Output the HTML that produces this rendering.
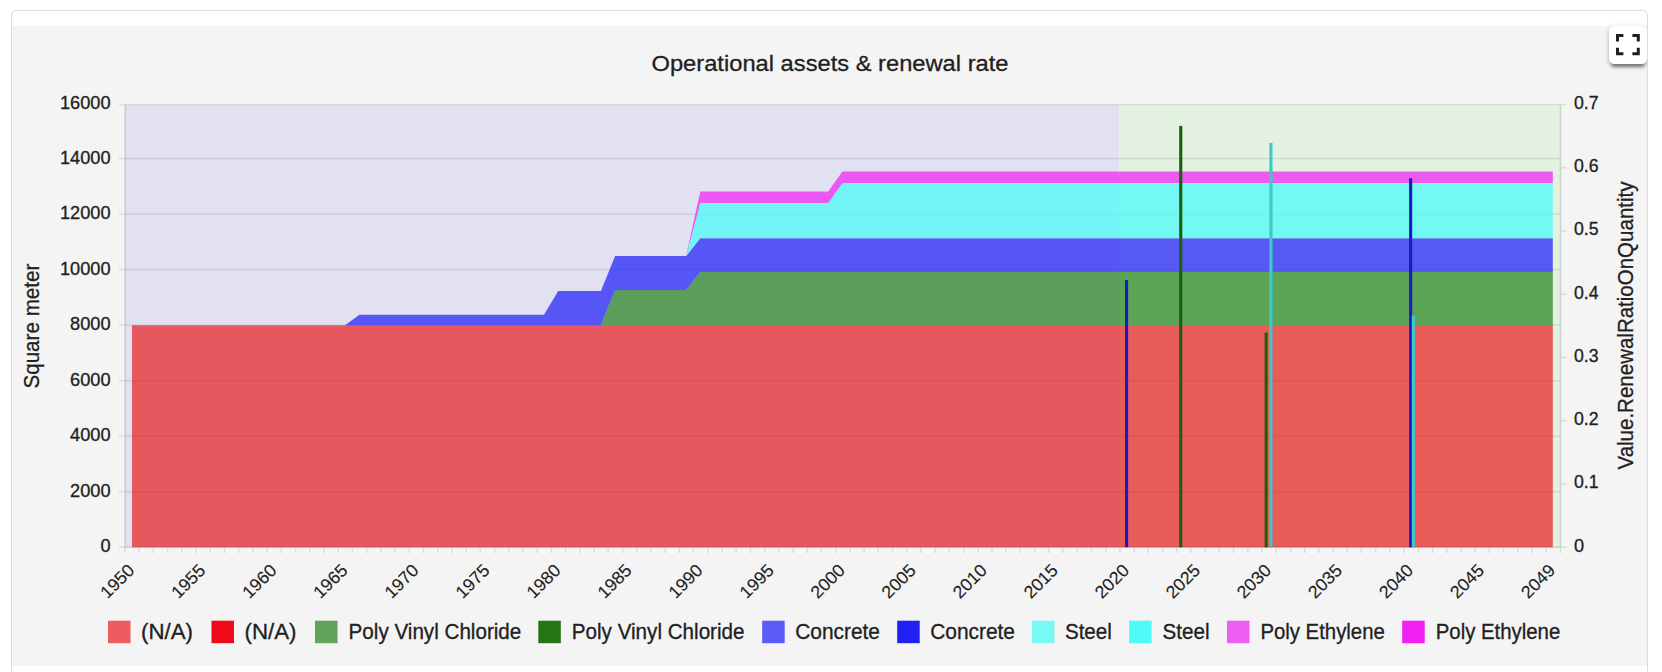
<!DOCTYPE html>
<html lang="en"><head><meta charset="utf-8"><title>Operational assets &amp; renewal rate</title>
<style>
html,body{margin:0;padding:0;background:#fff;}
body{width:1662px;height:672px;overflow:hidden;position:relative;font-family:"Liberation Sans", sans-serif;}
.card{position:absolute;left:11px;top:10px;width:1637px;height:720px;box-sizing:border-box;border:1px solid #dcdcdc;border-radius:5px;background:#fff;}
.pane{position:absolute;left:12px;top:26px;width:1635px;height:640px;background:#f4f4f4;}
.clip{position:absolute;left:12px;top:11px;width:1635px;height:661px;overflow:hidden;}
.fs{position:absolute;left:1597px;top:15px;width:38px;height:38px;border-radius:5.5px;background:#fff;box-shadow:0 5.5px 3px -3px rgba(0,0,0,.32),0 3px 3.5px 0 rgba(0,0,0,.2),0 1.5px 7.5px 0 rgba(0,0,0,.12);}
.fs svg{position:absolute;left:7.1px;top:8.4px;}
svg text{stroke:#212121;stroke-width:0.3px;}
svg text.xl{stroke-width:0.12px;}
</style></head><body>
<div class="card"></div>
<div class="pane"></div>
<svg width="1662" height="672" viewBox="0 0 1662 672" style="position:absolute;left:0;top:0" font-family='"Liberation Sans", sans-serif' fill="#212121">
<rect x="125.0" y="104.5" width="994.3" height="442.7" fill="#e2e1f1"/>
<rect x="1119.3" y="104.5" width="441.2" height="442.7" fill="#e2f1e0"/>
<line x1="125.0" x2="1560.5" y1="104.5" y2="104.5" stroke="#000" stroke-opacity="0.09" stroke-width="1.5"/>
<line x1="125.0" x2="1560.5" y1="158.6" y2="158.6" stroke="#000" stroke-opacity="0.09" stroke-width="1.5"/>
<line x1="125.0" x2="1560.5" y1="214.1" y2="214.1" stroke="#000" stroke-opacity="0.09" stroke-width="1.5"/>
<line x1="125.0" x2="1560.5" y1="269.6" y2="269.6" stroke="#000" stroke-opacity="0.09" stroke-width="1.5"/>
<line x1="125.0" x2="1560.5" y1="325.2" y2="325.2" stroke="#000" stroke-opacity="0.09" stroke-width="1.5"/>
<line x1="125.0" x2="1560.5" y1="380.7" y2="380.7" stroke="#000" stroke-opacity="0.09" stroke-width="1.5"/>
<line x1="125.0" x2="1560.5" y1="436.2" y2="436.2" stroke="#000" stroke-opacity="0.09" stroke-width="1.5"/>
<line x1="125.0" x2="1560.5" y1="491.7" y2="491.7" stroke="#000" stroke-opacity="0.09" stroke-width="1.5"/>
<path d="M132.0 325.2 L1552.8 325.2 L1552.8 547.2 L132.0 547.2Z" fill="#ea0c10" fill-opacity="0.65"/>
<path d="M132.0 325.2 L600.9 325.2 L615.1 290.1 L686.1 290.1 L700.3 272.1 L1552.8 272.1 L1552.8 325.2 L132.0 325.2Z" fill="#187c10" fill-opacity="0.67"/>
<path d="M132.0 325.2 L345.1 325.2 L359.3 314.7 L544.0 314.7 L558.2 290.9 L600.9 290.9 L615.1 256.1 L686.1 256.1 L700.3 238.2 L1552.8 238.2 L1552.8 272.1 L700.3 272.1 L686.1 290.1 L615.1 290.1 L600.9 325.2 L132.0 325.2Z" fill="#2020fa" fill-opacity="0.72"/>
<path d="M132.0 325.2 L345.1 325.2 L359.3 314.7 L544.0 314.7 L558.2 290.9 L600.9 290.9 L615.1 256.1 L686.1 256.1 L700.3 203.0 L828.2 203.0 L842.4 183.1 L1552.8 183.1 L1552.8 238.2 L700.3 238.2 L686.1 256.1 L615.1 256.1 L600.9 290.9 L558.2 290.9 L544.0 314.7 L359.3 314.7 L345.1 325.2 L132.0 325.2Z" fill="#46fcf6" fill-opacity="0.72"/>
<path d="M132.0 325.2 L345.1 325.2 L359.3 314.7 L544.0 314.7 L558.2 290.9 L600.9 290.9 L615.1 256.1 L686.1 256.1 L700.3 191.6 L828.2 191.6 L842.4 171.4 L1552.8 171.4 L1552.8 183.1 L842.4 183.1 L828.2 203.0 L700.3 203.0 L686.1 256.1 L615.1 256.1 L600.9 290.9 L558.2 290.9 L544.0 314.7 L359.3 314.7 L345.1 325.2 L132.0 325.2Z" fill="#ee22f2" fill-opacity="0.72"/>
<rect x="1125.0" y="280.1" width="3.1" height="267.1" fill="#1a1ac2"/>
<rect x="1179.2" y="125.9" width="3.1" height="421.3" fill="#1c5d10"/>
<rect x="1264.6" y="332.6" width="3.1" height="214.6" fill="#1c5d10"/>
<rect x="1269.4" y="142.9" width="3.1" height="404.3" fill="#3fc8cc"/>
<rect x="1409.1" y="178.2" width="3.1" height="369.0" fill="#1a1ac2"/>
<rect x="1411.8" y="315.4" width="3.1" height="231.8" fill="#3fc8cc"/>
<line x1="125.0" x2="125.0" y1="104.5" y2="547.9" stroke="#000" stroke-opacity="0.13" stroke-width="1.5"/>
<line x1="1560.5" x2="1560.5" y1="104.5" y2="547.9" stroke="#000" stroke-opacity="0.13" stroke-width="1.5"/>
<line x1="125.0" x2="1560.5" y1="547.2" y2="547.2" stroke="#000" stroke-opacity="0.13" stroke-width="1.5"/>
<line x1="119" x2="124.2" y1="104.5" y2="104.5" stroke="#000" stroke-opacity="0.10" stroke-width="1.5"/>
<line x1="119" x2="124.2" y1="158.6" y2="158.6" stroke="#000" stroke-opacity="0.10" stroke-width="1.5"/>
<line x1="119" x2="124.2" y1="214.1" y2="214.1" stroke="#000" stroke-opacity="0.10" stroke-width="1.5"/>
<line x1="119" x2="124.2" y1="269.6" y2="269.6" stroke="#000" stroke-opacity="0.10" stroke-width="1.5"/>
<line x1="119" x2="124.2" y1="325.2" y2="325.2" stroke="#000" stroke-opacity="0.10" stroke-width="1.5"/>
<line x1="119" x2="124.2" y1="380.7" y2="380.7" stroke="#000" stroke-opacity="0.10" stroke-width="1.5"/>
<line x1="119" x2="124.2" y1="436.2" y2="436.2" stroke="#000" stroke-opacity="0.10" stroke-width="1.5"/>
<line x1="119" x2="124.2" y1="491.7" y2="491.7" stroke="#000" stroke-opacity="0.10" stroke-width="1.5"/>
<line x1="119" x2="124.2" y1="547.2" y2="547.2" stroke="#000" stroke-opacity="0.10" stroke-width="1.5"/>
<line x1="1561.2" x2="1566.5" y1="547.2" y2="547.2" stroke="#000" stroke-opacity="0.10" stroke-width="1.5"/>
<line x1="1561.2" x2="1566.5" y1="484.0" y2="484.0" stroke="#000" stroke-opacity="0.10" stroke-width="1.5"/>
<line x1="1561.2" x2="1566.5" y1="420.7" y2="420.7" stroke="#000" stroke-opacity="0.10" stroke-width="1.5"/>
<line x1="1561.2" x2="1566.5" y1="357.5" y2="357.5" stroke="#000" stroke-opacity="0.10" stroke-width="1.5"/>
<line x1="1561.2" x2="1566.5" y1="294.2" y2="294.2" stroke="#000" stroke-opacity="0.10" stroke-width="1.5"/>
<line x1="1561.2" x2="1566.5" y1="231.0" y2="231.0" stroke="#000" stroke-opacity="0.10" stroke-width="1.5"/>
<line x1="1561.2" x2="1566.5" y1="167.7" y2="167.7" stroke="#000" stroke-opacity="0.10" stroke-width="1.5"/>
<line x1="1561.2" x2="1566.5" y1="104.5" y2="104.5" stroke="#000" stroke-opacity="0.10" stroke-width="1.5"/>
<line x1="125.0" x2="125.0" y1="548.0" y2="553" stroke="#000" stroke-opacity="0.10" stroke-width="1.5"/>
<line x1="139.2" x2="139.2" y1="548.0" y2="553" stroke="#000" stroke-opacity="0.10" stroke-width="1.5"/>
<line x1="153.4" x2="153.4" y1="548.0" y2="553" stroke="#000" stroke-opacity="0.10" stroke-width="1.5"/>
<line x1="167.6" x2="167.6" y1="548.0" y2="553" stroke="#000" stroke-opacity="0.10" stroke-width="1.5"/>
<line x1="181.9" x2="181.9" y1="548.0" y2="553" stroke="#000" stroke-opacity="0.10" stroke-width="1.5"/>
<line x1="196.1" x2="196.1" y1="548.0" y2="553" stroke="#000" stroke-opacity="0.10" stroke-width="1.5"/>
<line x1="210.3" x2="210.3" y1="548.0" y2="553" stroke="#000" stroke-opacity="0.10" stroke-width="1.5"/>
<line x1="224.5" x2="224.5" y1="548.0" y2="553" stroke="#000" stroke-opacity="0.10" stroke-width="1.5"/>
<line x1="238.7" x2="238.7" y1="548.0" y2="553" stroke="#000" stroke-opacity="0.10" stroke-width="1.5"/>
<line x1="252.9" x2="252.9" y1="548.0" y2="553" stroke="#000" stroke-opacity="0.10" stroke-width="1.5"/>
<line x1="267.1" x2="267.1" y1="548.0" y2="553" stroke="#000" stroke-opacity="0.10" stroke-width="1.5"/>
<line x1="281.3" x2="281.3" y1="548.0" y2="553" stroke="#000" stroke-opacity="0.10" stroke-width="1.5"/>
<line x1="295.6" x2="295.6" y1="548.0" y2="553" stroke="#000" stroke-opacity="0.10" stroke-width="1.5"/>
<line x1="309.8" x2="309.8" y1="548.0" y2="553" stroke="#000" stroke-opacity="0.10" stroke-width="1.5"/>
<line x1="324.0" x2="324.0" y1="548.0" y2="553" stroke="#000" stroke-opacity="0.10" stroke-width="1.5"/>
<line x1="338.2" x2="338.2" y1="548.0" y2="553" stroke="#000" stroke-opacity="0.10" stroke-width="1.5"/>
<line x1="352.4" x2="352.4" y1="548.0" y2="553" stroke="#000" stroke-opacity="0.10" stroke-width="1.5"/>
<line x1="366.6" x2="366.6" y1="548.0" y2="553" stroke="#000" stroke-opacity="0.10" stroke-width="1.5"/>
<line x1="380.8" x2="380.8" y1="548.0" y2="553" stroke="#000" stroke-opacity="0.10" stroke-width="1.5"/>
<line x1="395.0" x2="395.0" y1="548.0" y2="553" stroke="#000" stroke-opacity="0.10" stroke-width="1.5"/>
<line x1="409.3" x2="409.3" y1="548.0" y2="553" stroke="#000" stroke-opacity="0.10" stroke-width="1.5"/>
<line x1="423.5" x2="423.5" y1="548.0" y2="553" stroke="#000" stroke-opacity="0.10" stroke-width="1.5"/>
<line x1="437.7" x2="437.7" y1="548.0" y2="553" stroke="#000" stroke-opacity="0.10" stroke-width="1.5"/>
<line x1="451.9" x2="451.9" y1="548.0" y2="553" stroke="#000" stroke-opacity="0.10" stroke-width="1.5"/>
<line x1="466.1" x2="466.1" y1="548.0" y2="553" stroke="#000" stroke-opacity="0.10" stroke-width="1.5"/>
<line x1="480.3" x2="480.3" y1="548.0" y2="553" stroke="#000" stroke-opacity="0.10" stroke-width="1.5"/>
<line x1="494.5" x2="494.5" y1="548.0" y2="553" stroke="#000" stroke-opacity="0.10" stroke-width="1.5"/>
<line x1="508.7" x2="508.7" y1="548.0" y2="553" stroke="#000" stroke-opacity="0.10" stroke-width="1.5"/>
<line x1="523.0" x2="523.0" y1="548.0" y2="553" stroke="#000" stroke-opacity="0.10" stroke-width="1.5"/>
<line x1="537.2" x2="537.2" y1="548.0" y2="553" stroke="#000" stroke-opacity="0.10" stroke-width="1.5"/>
<line x1="551.4" x2="551.4" y1="548.0" y2="553" stroke="#000" stroke-opacity="0.10" stroke-width="1.5"/>
<line x1="565.6" x2="565.6" y1="548.0" y2="553" stroke="#000" stroke-opacity="0.10" stroke-width="1.5"/>
<line x1="579.8" x2="579.8" y1="548.0" y2="553" stroke="#000" stroke-opacity="0.10" stroke-width="1.5"/>
<line x1="594.0" x2="594.0" y1="548.0" y2="553" stroke="#000" stroke-opacity="0.10" stroke-width="1.5"/>
<line x1="608.2" x2="608.2" y1="548.0" y2="553" stroke="#000" stroke-opacity="0.10" stroke-width="1.5"/>
<line x1="622.5" x2="622.5" y1="548.0" y2="553" stroke="#000" stroke-opacity="0.10" stroke-width="1.5"/>
<line x1="636.7" x2="636.7" y1="548.0" y2="553" stroke="#000" stroke-opacity="0.10" stroke-width="1.5"/>
<line x1="650.9" x2="650.9" y1="548.0" y2="553" stroke="#000" stroke-opacity="0.10" stroke-width="1.5"/>
<line x1="665.1" x2="665.1" y1="548.0" y2="553" stroke="#000" stroke-opacity="0.10" stroke-width="1.5"/>
<line x1="679.3" x2="679.3" y1="548.0" y2="553" stroke="#000" stroke-opacity="0.10" stroke-width="1.5"/>
<line x1="693.5" x2="693.5" y1="548.0" y2="553" stroke="#000" stroke-opacity="0.10" stroke-width="1.5"/>
<line x1="707.7" x2="707.7" y1="548.0" y2="553" stroke="#000" stroke-opacity="0.10" stroke-width="1.5"/>
<line x1="721.9" x2="721.9" y1="548.0" y2="553" stroke="#000" stroke-opacity="0.10" stroke-width="1.5"/>
<line x1="736.2" x2="736.2" y1="548.0" y2="553" stroke="#000" stroke-opacity="0.10" stroke-width="1.5"/>
<line x1="750.4" x2="750.4" y1="548.0" y2="553" stroke="#000" stroke-opacity="0.10" stroke-width="1.5"/>
<line x1="764.6" x2="764.6" y1="548.0" y2="553" stroke="#000" stroke-opacity="0.10" stroke-width="1.5"/>
<line x1="778.8" x2="778.8" y1="548.0" y2="553" stroke="#000" stroke-opacity="0.10" stroke-width="1.5"/>
<line x1="793.0" x2="793.0" y1="548.0" y2="553" stroke="#000" stroke-opacity="0.10" stroke-width="1.5"/>
<line x1="807.2" x2="807.2" y1="548.0" y2="553" stroke="#000" stroke-opacity="0.10" stroke-width="1.5"/>
<line x1="821.4" x2="821.4" y1="548.0" y2="553" stroke="#000" stroke-opacity="0.10" stroke-width="1.5"/>
<line x1="835.6" x2="835.6" y1="548.0" y2="553" stroke="#000" stroke-opacity="0.10" stroke-width="1.5"/>
<line x1="849.9" x2="849.9" y1="548.0" y2="553" stroke="#000" stroke-opacity="0.10" stroke-width="1.5"/>
<line x1="864.1" x2="864.1" y1="548.0" y2="553" stroke="#000" stroke-opacity="0.10" stroke-width="1.5"/>
<line x1="878.3" x2="878.3" y1="548.0" y2="553" stroke="#000" stroke-opacity="0.10" stroke-width="1.5"/>
<line x1="892.5" x2="892.5" y1="548.0" y2="553" stroke="#000" stroke-opacity="0.10" stroke-width="1.5"/>
<line x1="906.7" x2="906.7" y1="548.0" y2="553" stroke="#000" stroke-opacity="0.10" stroke-width="1.5"/>
<line x1="920.9" x2="920.9" y1="548.0" y2="553" stroke="#000" stroke-opacity="0.10" stroke-width="1.5"/>
<line x1="935.1" x2="935.1" y1="548.0" y2="553" stroke="#000" stroke-opacity="0.10" stroke-width="1.5"/>
<line x1="949.3" x2="949.3" y1="548.0" y2="553" stroke="#000" stroke-opacity="0.10" stroke-width="1.5"/>
<line x1="963.6" x2="963.6" y1="548.0" y2="553" stroke="#000" stroke-opacity="0.10" stroke-width="1.5"/>
<line x1="977.8" x2="977.8" y1="548.0" y2="553" stroke="#000" stroke-opacity="0.10" stroke-width="1.5"/>
<line x1="992.0" x2="992.0" y1="548.0" y2="553" stroke="#000" stroke-opacity="0.10" stroke-width="1.5"/>
<line x1="1006.2" x2="1006.2" y1="548.0" y2="553" stroke="#000" stroke-opacity="0.10" stroke-width="1.5"/>
<line x1="1020.4" x2="1020.4" y1="548.0" y2="553" stroke="#000" stroke-opacity="0.10" stroke-width="1.5"/>
<line x1="1034.6" x2="1034.6" y1="548.0" y2="553" stroke="#000" stroke-opacity="0.10" stroke-width="1.5"/>
<line x1="1048.8" x2="1048.8" y1="548.0" y2="553" stroke="#000" stroke-opacity="0.10" stroke-width="1.5"/>
<line x1="1063.0" x2="1063.0" y1="548.0" y2="553" stroke="#000" stroke-opacity="0.10" stroke-width="1.5"/>
<line x1="1077.3" x2="1077.3" y1="548.0" y2="553" stroke="#000" stroke-opacity="0.10" stroke-width="1.5"/>
<line x1="1091.5" x2="1091.5" y1="548.0" y2="553" stroke="#000" stroke-opacity="0.10" stroke-width="1.5"/>
<line x1="1105.7" x2="1105.7" y1="548.0" y2="553" stroke="#000" stroke-opacity="0.10" stroke-width="1.5"/>
<line x1="1119.9" x2="1119.9" y1="548.0" y2="553" stroke="#000" stroke-opacity="0.10" stroke-width="1.5"/>
<line x1="1134.1" x2="1134.1" y1="548.0" y2="553" stroke="#000" stroke-opacity="0.10" stroke-width="1.5"/>
<line x1="1148.3" x2="1148.3" y1="548.0" y2="553" stroke="#000" stroke-opacity="0.10" stroke-width="1.5"/>
<line x1="1162.5" x2="1162.5" y1="548.0" y2="553" stroke="#000" stroke-opacity="0.10" stroke-width="1.5"/>
<line x1="1176.8" x2="1176.8" y1="548.0" y2="553" stroke="#000" stroke-opacity="0.10" stroke-width="1.5"/>
<line x1="1191.0" x2="1191.0" y1="548.0" y2="553" stroke="#000" stroke-opacity="0.10" stroke-width="1.5"/>
<line x1="1205.2" x2="1205.2" y1="548.0" y2="553" stroke="#000" stroke-opacity="0.10" stroke-width="1.5"/>
<line x1="1219.4" x2="1219.4" y1="548.0" y2="553" stroke="#000" stroke-opacity="0.10" stroke-width="1.5"/>
<line x1="1233.6" x2="1233.6" y1="548.0" y2="553" stroke="#000" stroke-opacity="0.10" stroke-width="1.5"/>
<line x1="1247.8" x2="1247.8" y1="548.0" y2="553" stroke="#000" stroke-opacity="0.10" stroke-width="1.5"/>
<line x1="1262.0" x2="1262.0" y1="548.0" y2="553" stroke="#000" stroke-opacity="0.10" stroke-width="1.5"/>
<line x1="1276.2" x2="1276.2" y1="548.0" y2="553" stroke="#000" stroke-opacity="0.10" stroke-width="1.5"/>
<line x1="1290.5" x2="1290.5" y1="548.0" y2="553" stroke="#000" stroke-opacity="0.10" stroke-width="1.5"/>
<line x1="1304.7" x2="1304.7" y1="548.0" y2="553" stroke="#000" stroke-opacity="0.10" stroke-width="1.5"/>
<line x1="1318.9" x2="1318.9" y1="548.0" y2="553" stroke="#000" stroke-opacity="0.10" stroke-width="1.5"/>
<line x1="1333.1" x2="1333.1" y1="548.0" y2="553" stroke="#000" stroke-opacity="0.10" stroke-width="1.5"/>
<line x1="1347.3" x2="1347.3" y1="548.0" y2="553" stroke="#000" stroke-opacity="0.10" stroke-width="1.5"/>
<line x1="1361.5" x2="1361.5" y1="548.0" y2="553" stroke="#000" stroke-opacity="0.10" stroke-width="1.5"/>
<line x1="1375.7" x2="1375.7" y1="548.0" y2="553" stroke="#000" stroke-opacity="0.10" stroke-width="1.5"/>
<line x1="1389.9" x2="1389.9" y1="548.0" y2="553" stroke="#000" stroke-opacity="0.10" stroke-width="1.5"/>
<line x1="1404.2" x2="1404.2" y1="548.0" y2="553" stroke="#000" stroke-opacity="0.10" stroke-width="1.5"/>
<line x1="1418.4" x2="1418.4" y1="548.0" y2="553" stroke="#000" stroke-opacity="0.10" stroke-width="1.5"/>
<line x1="1432.6" x2="1432.6" y1="548.0" y2="553" stroke="#000" stroke-opacity="0.10" stroke-width="1.5"/>
<line x1="1446.8" x2="1446.8" y1="548.0" y2="553" stroke="#000" stroke-opacity="0.10" stroke-width="1.5"/>
<line x1="1461.0" x2="1461.0" y1="548.0" y2="553" stroke="#000" stroke-opacity="0.10" stroke-width="1.5"/>
<line x1="1475.2" x2="1475.2" y1="548.0" y2="553" stroke="#000" stroke-opacity="0.10" stroke-width="1.5"/>
<line x1="1489.4" x2="1489.4" y1="548.0" y2="553" stroke="#000" stroke-opacity="0.10" stroke-width="1.5"/>
<line x1="1503.6" x2="1503.6" y1="548.0" y2="553" stroke="#000" stroke-opacity="0.10" stroke-width="1.5"/>
<line x1="1517.9" x2="1517.9" y1="548.0" y2="553" stroke="#000" stroke-opacity="0.10" stroke-width="1.5"/>
<line x1="1532.1" x2="1532.1" y1="548.0" y2="553" stroke="#000" stroke-opacity="0.10" stroke-width="1.5"/>
<line x1="1546.3" x2="1546.3" y1="548.0" y2="553" stroke="#000" stroke-opacity="0.10" stroke-width="1.5"/>
<line x1="1560.5" x2="1560.5" y1="548.0" y2="553" stroke="#000" stroke-opacity="0.10" stroke-width="1.5"/>
<text x="830" y="70.8" font-size="22.9" text-anchor="middle" textLength="357" lengthAdjust="spacingAndGlyphs">Operational assets &amp; renewal rate</text>
<text x="110.5" y="108.8" font-size="18" text-anchor="end" textLength="50.5" lengthAdjust="spacingAndGlyphs">16000</text>
<text x="110.5" y="163.9" font-size="18" text-anchor="end" textLength="50.5" lengthAdjust="spacingAndGlyphs">14000</text>
<text x="110.5" y="219.4" font-size="18" text-anchor="end" textLength="50.5" lengthAdjust="spacingAndGlyphs">12000</text>
<text x="110.5" y="274.9" font-size="18" text-anchor="end" textLength="50.5" lengthAdjust="spacingAndGlyphs">10000</text>
<text x="110.5" y="329.5" font-size="18" text-anchor="end" textLength="40.4" lengthAdjust="spacingAndGlyphs">8000</text>
<text x="110.5" y="386.0" font-size="18" text-anchor="end" textLength="40.4" lengthAdjust="spacingAndGlyphs">6000</text>
<text x="110.5" y="440.5" font-size="18" text-anchor="end" textLength="40.4" lengthAdjust="spacingAndGlyphs">4000</text>
<text x="110.5" y="497.0" font-size="18" text-anchor="end" textLength="40.4" lengthAdjust="spacingAndGlyphs">2000</text>
<text x="110.5" y="551.5" font-size="18" text-anchor="end" textLength="10.1" lengthAdjust="spacingAndGlyphs">0</text>
<text x="1574" y="551.5" font-size="18" textLength="10.1" lengthAdjust="spacingAndGlyphs">0</text>
<text x="1574" y="488.3" font-size="18" textLength="24.6" lengthAdjust="spacingAndGlyphs">0.1</text>
<text x="1574" y="425.0" font-size="18" textLength="24.6" lengthAdjust="spacingAndGlyphs">0.2</text>
<text x="1574" y="361.8" font-size="18" textLength="24.6" lengthAdjust="spacingAndGlyphs">0.3</text>
<text x="1574" y="298.5" font-size="18" textLength="24.6" lengthAdjust="spacingAndGlyphs">0.4</text>
<text x="1574" y="235.3" font-size="18" textLength="24.6" lengthAdjust="spacingAndGlyphs">0.5</text>
<text x="1574" y="172.0" font-size="18" textLength="24.6" lengthAdjust="spacingAndGlyphs">0.6</text>
<text x="1574" y="108.8" font-size="18" textLength="24.6" lengthAdjust="spacingAndGlyphs">0.7</text>
<text transform="translate(39.1 326.1) rotate(-90)" font-size="21.6" text-anchor="middle" textLength="125" lengthAdjust="spacingAndGlyphs">Square meter</text>
<text transform="translate(1632.9 325.5) rotate(-90)" font-size="21.6" text-anchor="middle" textLength="288" lengthAdjust="spacingAndGlyphs">Value.RenewalRatioOnQuantity</text>
<text class="xl" transform="translate(135.6 571.4) rotate(-45)" font-size="17.6" text-anchor="end" textLength="39.8" lengthAdjust="spacingAndGlyphs">1950</text>
<text class="xl" transform="translate(206.6 571.4) rotate(-45)" font-size="17.6" text-anchor="end" textLength="39.8" lengthAdjust="spacingAndGlyphs">1955</text>
<text class="xl" transform="translate(277.7 571.4) rotate(-45)" font-size="17.6" text-anchor="end" textLength="39.8" lengthAdjust="spacingAndGlyphs">1960</text>
<text class="xl" transform="translate(348.7 571.4) rotate(-45)" font-size="17.6" text-anchor="end" textLength="39.8" lengthAdjust="spacingAndGlyphs">1965</text>
<text class="xl" transform="translate(419.8 571.4) rotate(-45)" font-size="17.6" text-anchor="end" textLength="39.8" lengthAdjust="spacingAndGlyphs">1970</text>
<text class="xl" transform="translate(490.8 571.4) rotate(-45)" font-size="17.6" text-anchor="end" textLength="39.8" lengthAdjust="spacingAndGlyphs">1975</text>
<text class="xl" transform="translate(561.8 571.4) rotate(-45)" font-size="17.6" text-anchor="end" textLength="39.8" lengthAdjust="spacingAndGlyphs">1980</text>
<text class="xl" transform="translate(632.9 571.4) rotate(-45)" font-size="17.6" text-anchor="end" textLength="39.8" lengthAdjust="spacingAndGlyphs">1985</text>
<text class="xl" transform="translate(703.9 571.4) rotate(-45)" font-size="17.6" text-anchor="end" textLength="39.8" lengthAdjust="spacingAndGlyphs">1990</text>
<text class="xl" transform="translate(775.0 571.4) rotate(-45)" font-size="17.6" text-anchor="end" textLength="39.8" lengthAdjust="spacingAndGlyphs">1995</text>
<text class="xl" transform="translate(846.0 571.4) rotate(-45)" font-size="17.6" text-anchor="end" textLength="39.8" lengthAdjust="spacingAndGlyphs">2000</text>
<text class="xl" transform="translate(917.0 571.4) rotate(-45)" font-size="17.6" text-anchor="end" textLength="39.8" lengthAdjust="spacingAndGlyphs">2005</text>
<text class="xl" transform="translate(988.1 571.4) rotate(-45)" font-size="17.6" text-anchor="end" textLength="39.8" lengthAdjust="spacingAndGlyphs">2010</text>
<text class="xl" transform="translate(1059.1 571.4) rotate(-45)" font-size="17.6" text-anchor="end" textLength="39.8" lengthAdjust="spacingAndGlyphs">2015</text>
<text class="xl" transform="translate(1130.2 571.4) rotate(-45)" font-size="17.6" text-anchor="end" textLength="39.8" lengthAdjust="spacingAndGlyphs">2020</text>
<text class="xl" transform="translate(1201.2 571.4) rotate(-45)" font-size="17.6" text-anchor="end" textLength="39.8" lengthAdjust="spacingAndGlyphs">2025</text>
<text class="xl" transform="translate(1272.2 571.4) rotate(-45)" font-size="17.6" text-anchor="end" textLength="39.8" lengthAdjust="spacingAndGlyphs">2030</text>
<text class="xl" transform="translate(1343.3 571.4) rotate(-45)" font-size="17.6" text-anchor="end" textLength="39.8" lengthAdjust="spacingAndGlyphs">2035</text>
<text class="xl" transform="translate(1414.3 571.4) rotate(-45)" font-size="17.6" text-anchor="end" textLength="39.8" lengthAdjust="spacingAndGlyphs">2040</text>
<text class="xl" transform="translate(1485.4 571.4) rotate(-45)" font-size="17.6" text-anchor="end" textLength="39.8" lengthAdjust="spacingAndGlyphs">2045</text>
<text class="xl" transform="translate(1556.4 571.4) rotate(-45)" font-size="17.6" text-anchor="end" textLength="39.8" lengthAdjust="spacingAndGlyphs">2049</text>
<rect x="108.0" y="620.7" width="22.5" height="22.5" fill="#ea0c10" fill-opacity="0.65"/>
<text x="141.0" y="638.8" font-size="21.6" textLength="52.0" lengthAdjust="spacingAndGlyphs">(N/A)</text>
<rect x="211.5" y="620.7" width="22.5" height="22.5" fill="#ee0a18" fill-opacity="1"/>
<text x="244.5" y="638.8" font-size="21.6" textLength="52.0" lengthAdjust="spacingAndGlyphs">(N/A)</text>
<rect x="315.0" y="620.7" width="22.5" height="22.5" fill="#187c10" fill-opacity="0.67"/>
<text x="348.6" y="638.8" font-size="21.6" textLength="172.7" lengthAdjust="spacingAndGlyphs">Poly Vinyl Chloride</text>
<rect x="538.3" y="620.7" width="22.5" height="22.5" fill="#247614" fill-opacity="1"/>
<text x="571.8" y="638.8" font-size="21.6" textLength="172.7" lengthAdjust="spacingAndGlyphs">Poly Vinyl Chloride</text>
<rect x="762.2" y="620.7" width="22.5" height="22.5" fill="#2020fa" fill-opacity="0.72"/>
<text x="795.2" y="638.8" font-size="21.6" textLength="84.8" lengthAdjust="spacingAndGlyphs">Concrete</text>
<rect x="897.2" y="620.7" width="22.5" height="22.5" fill="#2020f4" fill-opacity="1"/>
<text x="930.2" y="638.8" font-size="21.6" textLength="84.8" lengthAdjust="spacingAndGlyphs">Concrete</text>
<rect x="1031.9" y="620.7" width="22.5" height="22.5" fill="#46fcf6" fill-opacity="0.72"/>
<text x="1064.9" y="638.8" font-size="21.6" textLength="47.0" lengthAdjust="spacingAndGlyphs">Steel</text>
<rect x="1129.2" y="620.7" width="22.5" height="22.5" fill="#50fbf7" fill-opacity="1"/>
<text x="1162.6" y="638.8" font-size="21.6" textLength="47.0" lengthAdjust="spacingAndGlyphs">Steel</text>
<rect x="1227.0" y="620.7" width="22.5" height="22.5" fill="#ee22f2" fill-opacity="0.72"/>
<text x="1260.4" y="638.8" font-size="21.6" textLength="124.4" lengthAdjust="spacingAndGlyphs">Poly Ethylene</text>
<rect x="1402.2" y="620.7" width="22.5" height="22.5" fill="#f020f0" fill-opacity="1"/>
<text x="1435.8" y="638.8" font-size="21.6" textLength="124.4" lengthAdjust="spacingAndGlyphs">Poly Ethylene</text>
</svg>
<div class="clip"><div class="fs"><svg width="23.8" height="21.2" viewBox="0 0 23.8 21.2"><path fill="#1f1f1f" d="M0 0h7.4v3H3v4.5H0zM16.4 0h7.4v7.5h-3V3h-4.4zM0 13.7h3v4.5h4.4v3H0zM20.8 13.7h3v7.5h-7.4v-3h4.4z"/></svg></div></div>
</body></html>
